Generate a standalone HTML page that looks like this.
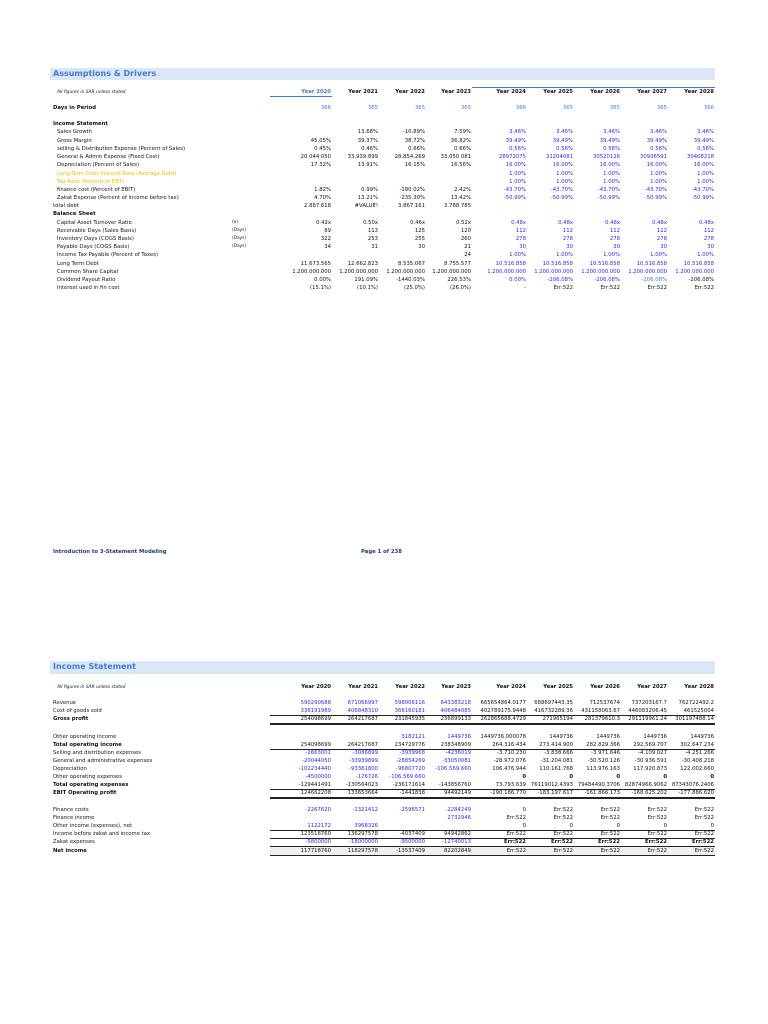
<!DOCTYPE html>
<html><head><meta charset="utf-8"><style>
body{margin:0;background:#fff;width:768px;height:1024px;position:relative;overflow:hidden;font-family:"DejaVu Sans","Liberation Sans",sans-serif;font-size:5.3px;color:#111}
.r{position:absolute;left:0;width:768px;height:8px;line-height:8px;white-space:nowrap}
.l{position:absolute;left:53px}
.i{left:57px}
.b{font-weight:bold}
.u{position:absolute;left:232px;font-size:4.3px}
.c{position:absolute;text-align:right;width:70px}
.c1{left:261px}.c2{left:308px}.c3{left:355px}.c4{left:401px}.c5{left:456px}.c6{left:503px}.c7{left:550px}.c8{left:597px}.c9{left:644px}
.bl{color:#2a2ae6}.lb{color:#3b7ddd}.or{color:#f5b800}
.band{position:absolute;left:50px;width:665px;background:#dce6f4;color:#3b7ddd;font-weight:bold;font-size:8px;line-height:12px;padding-left:3px;box-sizing:border-box}
.hd .c{font-weight:bold}
.ln{position:absolute;height:0;border-top:1px solid #222}
</style></head><body>

<div class="band" style="top:68px;height:12px">Assumptions &amp; Drivers</div>
<div class="r" style="top:89px"><span class="l i" style="font-style:italic;font-size:4.4px">All figures in SAR unless stated</span></div>
<div class="r hd" style="top:88px"><span class="c c1 lb">Year 2020</span><span class="c c2">Year 2021</span><span class="c c3">Year 2022</span><span class="c c4">Year 2023</span><span class="c c5">Year 2024</span><span class="c c6">Year 2025</span><span class="c c7">Year 2026</span><span class="c c8">Year 2027</span><span class="c c9">Year 2028</span></div>
<div class="ln" style="top:96px;left:270px;width:62px;border-color:#3b7ddd"></div>
<div class="ln" style="top:87px;left:472px;width:243px;border-color:#3b7ddd"></div>
<div class="r" style="top:104px"><span class="l b">Days in Period</span><span class="c c1 lb">366</span><span class="c c2 lb">365</span><span class="c c3 lb">365</span><span class="c c4 lb">365</span><span class="c c5 lb">366</span><span class="c c6 lb">365</span><span class="c c7 lb">365</span><span class="c c8 lb">365</span><span class="c c9 lb">366</span></div>
<div class="r" style="top:120px"><span class="l b">Income Statement</span></div>
<div class="r" style="top:128px"><span class="l i">Sales Growth</span><span class="c c2">13.68%</span><span class="c c3">-10.89%</span><span class="c c4">7.59%</span><span class="c c5 bl">3.46%</span><span class="c c6 bl">3.46%</span><span class="c c7 bl">3.46%</span><span class="c c8 bl">3.46%</span><span class="c c9 bl">3.46%</span></div>
<div class="r" style="top:137px"><span class="l i">Gross Margin</span><span class="c c1">45.05%</span><span class="c c2">39.37%</span><span class="c c3">38.72%</span><span class="c c4">36.82%</span><span class="c c5 bl">39.49%</span><span class="c c6 bl">39.49%</span><span class="c c7 bl">39.49%</span><span class="c c8 bl">39.49%</span><span class="c c9 bl">39.49%</span></div>
<div class="r" style="top:145px"><span class="l i">selling &amp; Distribution Expense (Percent of Sales)</span><span class="c c1">0.45%</span><span class="c c2">0.46%</span><span class="c c3">0.66%</span><span class="c c4">0.66%</span><span class="c c5 bl">0.56%</span><span class="c c6 bl">0.56%</span><span class="c c7 bl">0.56%</span><span class="c c8 bl">0.56%</span><span class="c c9 bl">0.56%</span></div>
<div class="r" style="top:153px"><span class="l i">General &amp; Admin Expense (Fixed Cost)</span><span class="c c1">20.044.050</span><span class="c c2">33.939.899</span><span class="c c3">28.854.269</span><span class="c c4">33.050.081</span><span class="c c5 bl">28972075</span><span class="c c6 bl">31204081</span><span class="c c7 bl">30520126</span><span class="c c8 bl">30936591</span><span class="c c9 bl">30408218</span></div>
<div class="r" style="top:161px"><span class="l i">Depreciation (Percent of Sales)</span><span class="c c1">17.32%</span><span class="c c2">13.91%</span><span class="c c3">16.15%</span><span class="c c4">16.56%</span><span class="c c5 bl">16.00%</span><span class="c c6 bl">16.00%</span><span class="c c7 bl">16.00%</span><span class="c c8 bl">16.00%</span><span class="c c9 bl">16.00%</span></div>
<div class="r" style="top:170px"><span class="l i or">Long-Term Debt Interest Rate (Average Debt)</span><span class="c c5 bl">1.00%</span><span class="c c6 bl">1.00%</span><span class="c c7 bl">1.00%</span><span class="c c8 bl">1.00%</span><span class="c c9 bl">1.00%</span></div>
<div class="r" style="top:178px"><span class="l i or">Tax Rate (Percent of EBT)</span><span class="c c5 bl">1.00%</span><span class="c c6 bl">1.00%</span><span class="c c7 bl">1.00%</span><span class="c c8 bl">1.00%</span><span class="c c9 bl">1.00%</span></div>
<div class="r" style="top:186px"><span class="l i">finance cost (Percent of EBIT)</span><span class="c c1">1.82%</span><span class="c c2">0.99%</span><span class="c c3">-180.02%</span><span class="c c4">2.42%</span><span class="c c5 bl">-43.70%</span><span class="c c6 bl">-43.70%</span><span class="c c7 bl">-43.70%</span><span class="c c8 bl">-43.70%</span><span class="c c9 bl">-43.70%</span></div>
<div class="r" style="top:194px"><span class="l i">Zakat Expense (Percent of income before tax)</span><span class="c c1">4.70%</span><span class="c c2">13.21%</span><span class="c c3">-235.30%</span><span class="c c4">13.42%</span><span class="c c5 bl">-50.99%</span><span class="c c6 bl">-50.99%</span><span class="c c7 bl">-50.99%</span><span class="c c8 bl">-50.99%</span><span class="c c9 bl">-50.99%</span></div>
<div class="r" style="top:202px"><span class="l">total debt</span><span class="c c1">2.887.618</span><span class="c c2">#VALUE!</span><span class="c c3">3.867.161</span><span class="c c4">3.788.785</span></div>
<div class="r" style="top:210px"><span class="l b">Balance Sheet</span></div>
<div class="r" style="top:219px"><span class="l i">Capital Asset Turnover Ratio</span><span class="u">(x)</span><span class="c c1">0.42x</span><span class="c c2">0.50x</span><span class="c c3">0.46x</span><span class="c c4">0.52x</span><span class="c c5 bl">0.48x</span><span class="c c6 bl">0.48x</span><span class="c c7 bl">0.48x</span><span class="c c8 bl">0.48x</span><span class="c c9 bl">0.48x</span></div>
<div class="r" style="top:227px"><span class="l i">Receivable Days (Sales Basis)</span><span class="u">(Days)</span><span class="c c1">89</span><span class="c c2">113</span><span class="c c3">125</span><span class="c c4">120</span><span class="c c5 bl">112</span><span class="c c6 bl">112</span><span class="c c7 bl">112</span><span class="c c8 bl">112</span><span class="c c9 bl">112</span></div>
<div class="r" style="top:235px"><span class="l i">Inventory Days (COGS Basis)</span><span class="u">(Days)</span><span class="c c1">322</span><span class="c c2">253</span><span class="c c3">255</span><span class="c c4">260</span><span class="c c5 bl">278</span><span class="c c6 bl">278</span><span class="c c7 bl">278</span><span class="c c8 bl">278</span><span class="c c9 bl">278</span></div>
<div class="r" style="top:243px"><span class="l i">Payable Days (COGS Basis)</span><span class="u">(Days)</span><span class="c c1">34</span><span class="c c2">31</span><span class="c c3">30</span><span class="c c4">21</span><span class="c c5 bl">30</span><span class="c c6 bl">30</span><span class="c c7 bl">30</span><span class="c c8 bl">30</span><span class="c c9 bl">30</span></div>
<div class="r" style="top:251px"><span class="l i">Income Tax Payable (Percent of Taxes)</span><span class="c c4">24</span><span class="c c5 bl">1.00%</span><span class="c c6 bl">1.00%</span><span class="c c7 bl">1.00%</span><span class="c c8 bl">1.00%</span><span class="c c9 bl">1.00%</span></div>
<div class="r" style="top:260px"><span class="l i">Long Term Debt</span><span class="c c1">11.673.565</span><span class="c c2">12.662.823</span><span class="c c3">8.535.067</span><span class="c c4">8.755.577</span><span class="c c5 bl">10.516.858</span><span class="c c6 bl">10.516.858</span><span class="c c7 bl">10.516.858</span><span class="c c8 bl">10.516.858</span><span class="c c9 bl">10.516.858</span></div>
<div class="r" style="top:268px"><span class="l i">Common Share Capital</span><span class="c c1">1.200.000.000</span><span class="c c2">1.200.000.000</span><span class="c c3">1.200.000.000</span><span class="c c4">1.200.000.000</span><span class="c c5 bl">1.200.000.000</span><span class="c c6 bl">1.200.000.000</span><span class="c c7 bl">1.200.000.000</span><span class="c c8 bl">1.200.000.000</span><span class="c c9 bl">1.200.000.000</span></div>
<div class="r" style="top:276px"><span class="l i">Dividend Payout Ratio</span><span class="c c1">0.00%</span><span class="c c2">191.09%</span><span class="c c3">-1440.03%</span><span class="c c4">226.53%</span><span class="c c5 bl">0.00%</span><span class="c c6 bl">-206.08%</span><span class="c c7 bl">-206.08%</span><span class="c c8 lb">-206.08%</span><span class="c c9">-206.08%</span></div>
<div class="r" style="top:284px"><span class="l i">Interest used in fin cost</span><span class="c c1">(15.1%)</span><span class="c c2">(10.1%)</span><span class="c c3">(25.0%)</span><span class="c c4">(26.0%)</span><span class="c c5">-</span><span class="c c6">Err:522</span><span class="c c7">Err:522</span><span class="c c8">Err:522</span><span class="c c9">Err:522</span></div>

<div class="r b" style="top:548px;color:#1f3a7a"><span class="l">Introduction to 3-Statement Modeling</span><span style="position:absolute;left:361px">Page 1 of 238</span></div>

<div class="band" style="top:661px;height:13px">Income Statement</div>
<div class="r" style="top:684px"><span class="l i" style="font-style:italic;font-size:4.4px">All figures in SAR unless stated</span></div>
<div class="r hd" style="top:683px"><span class="c c1">Year 2020</span><span class="c c2">Year 2021</span><span class="c c3">Year 2022</span><span class="c c4">Year 2023</span><span class="c c5">Year 2024</span><span class="c c6">Year 2025</span><span class="c c7">Year 2026</span><span class="c c8">Year 2027</span><span class="c c9">Year 2028</span></div>
<div class="r" style="top:699px"><span class="l">Revenue</span><span class="c c1 bl">590290688</span><span class="c c2 bl">671066997</span><span class="c c3 bl">598006116</span><span class="c c4 bl">643383218</span><span class="c c5">665654864.0177</span><span class="c c6">688697443.35</span><span class="c c7">712537674</span><span class="c c8">737203167.7</span><span class="c c9">762722492.2</span></div>
<div class="r" style="top:707px"><span class="l">Cost of goods sold</span><span class="c c1 bl">336191989</span><span class="c c2 bl">406848310</span><span class="c c3 bl">366160181</span><span class="c c4 bl">406484085</span><span class="c c5">402789175.9448</span><span class="c c6">416732289.36</span><span class="c c7">431158063.67</span><span class="c c8">446083206.45</span><span class="c c9">461525004</span></div>
<div class="ln" style="top:715px;left:270px;width:445px"></div>
<div class="r b" style="top:715px"><span class="l">Gross profit</span><span class="c c1" style="font-weight:normal">254098699</span><span class="c c2" style="font-weight:normal">264217687</span><span class="c c3" style="font-weight:normal">231845935</span><span class="c c4" style="font-weight:normal">236899133</span><span class="c c5" style="font-weight:normal">262865688.4729</span><span class="c c6" style="font-weight:normal">271965194</span><span class="c c7" style="font-weight:normal">281379610.3</span><span class="c c8" style="font-weight:normal">291119961.24</span><span class="c c9" style="font-weight:normal">301197488.14</span></div>
<div class="ln" style="top:723px;left:270px;width:445px;border-top:2.5px double #222;height:0"></div>
<div class="r" style="top:733px"><span class="l">Other operating income</span><span class="c c3 bl">3182121</span><span class="c c4 bl">1449736</span><span class="c c5">1449736.000078</span><span class="c c6">1449736</span><span class="c c7">1449736</span><span class="c c8">1449736</span><span class="c c9">1449736</span></div>
<div class="r b" style="top:741px"><span class="l">Total operating income</span><span class="c c1" style="font-weight:normal">254098699</span><span class="c c2" style="font-weight:normal">264217687</span><span class="c c3" style="font-weight:normal">234729776</span><span class="c c4" style="font-weight:normal">238348909</span><span class="c c5" style="font-weight:normal">264.316.434</span><span class="c c6" style="font-weight:normal">273.414.900</span><span class="c c7" style="font-weight:normal">282.829.366</span><span class="c c8" style="font-weight:normal">292.569.707</span><span class="c c9" style="font-weight:normal">302.647.234</span></div>
<div class="ln" style="top:749px;left:270px;width:445px"></div>
<div class="r" style="top:749px"><span class="l">Selling and distribution expenses</span><span class="c c1 bl">-2663001</span><span class="c c2 bl">-3086899</span><span class="c c3 bl">-3939968</span><span class="c c4 bl">-4236019</span><span class="c c5">-3.710.230</span><span class="c c6">-3.838.666</span><span class="c c7">-3.971.646</span><span class="c c8">-4.109.027</span><span class="c c9">-4.251.266</span></div>
<div class="r" style="top:757px"><span class="l">General and administrative expenses</span><span class="c c1 bl">-20044050</span><span class="c c2 bl">-33939899</span><span class="c c3 bl">-28854269</span><span class="c c4 bl">-33050081</span><span class="c c5">-28.972.076</span><span class="c c6">-31.204.081</span><span class="c c7">-30.520.126</span><span class="c c8">-30.936.591</span><span class="c c9">-30.408.218</span></div>
<div class="r" style="top:765px"><span class="l">Depreciation</span><span class="c c1 bl">-102234440</span><span class="c c2 bl">-93361800</span><span class="c c3 bl">-96807720</span><span class="c c4 bl">-106.569.660</span><span class="c c5">106.476.944</span><span class="c c6">110.161.768</span><span class="c c7">113.976.163</span><span class="c c8">117.920.873</span><span class="c c9">122.002.660</span></div>
<div class="r" style="top:773px"><span class="l">Other operating expenses</span><span class="c c1 bl">-4500000</span><span class="c c2 bl">-176726</span><span class="c c3 bl">-106.569.660</span><span class="c c5 b">0</span><span class="c c6 b">0</span><span class="c c7 b">0</span><span class="c c8 b">0</span><span class="c c9 b">0</span></div>
<div class="r b" style="top:781px"><span class="l">Total operating expenses</span><span class="c c1" style="font-weight:normal">-129441491</span><span class="c c2" style="font-weight:normal">-130564023</span><span class="c c3" style="font-weight:normal">-236171614</span><span class="c c4" style="font-weight:normal">-143856760</span><span class="c c5" style="font-weight:normal">73.793.639</span><span class="c c6" style="font-weight:normal">76119012.4393</span><span class="c c7" style="font-weight:normal">79484490.3706</span><span class="c c8" style="font-weight:normal">82874966.9062</span><span class="c c9" style="font-weight:normal">87343076.2406</span></div>
<div class="ln" style="top:789px;left:270px;width:445px"></div>
<div class="r b" style="top:789px"><span class="l">EBIT Operating profit</span><span class="c c1" style="font-weight:normal">124662208</span><span class="c c2" style="font-weight:normal">133653664</span><span class="c c3" style="font-weight:normal">-1441838</span><span class="c c4" style="font-weight:normal">94492149</span><span class="c c5" style="font-weight:normal">-190.186.770</span><span class="c c6" style="font-weight:normal">-183.197.617</span><span class="c c7" style="font-weight:normal">-161.866.173</span><span class="c c8" style="font-weight:normal">-168.625.202</span><span class="c c9" style="font-weight:normal">-177.886.620</span></div>
<div class="ln" style="top:797px;left:270px;width:445px;border-top:2.5px double #222"></div>
<div class="r" style="top:806px"><span class="l">Finance costs</span><span class="c c1 bl">-2267620</span><span class="c c2 bl">-1321412</span><span class="c c3 bl">-2596571</span><span class="c c4 bl">-2284249</span><span class="c c5">0</span><span class="c c6">Err:522</span><span class="c c7">Err:522</span><span class="c c8">Err:522</span><span class="c c9">Err:522</span></div>
<div class="r" style="top:814px"><span class="l">Finance income</span><span class="c c4 bl">2732946</span><span class="c c5">Err:522</span><span class="c c6">Err:522</span><span class="c c7">Err:522</span><span class="c c8">Err:522</span><span class="c c9">Err:522</span></div>
<div class="r" style="top:822px"><span class="l">Other income (expenses), net</span><span class="c c1 bl">1122172</span><span class="c c2 bl">3968326</span><span class="c c5">0</span><span class="c c6">0</span><span class="c c7">0</span><span class="c c8">0</span><span class="c c9">0</span></div>
<div class="ln" style="top:830px;left:270px;width:445px"></div>
<div class="r" style="top:830px"><span class="l">Income before zakat and income tax</span><span class="c c1">123518760</span><span class="c c2">136297578</span><span class="c c3">-4037409</span><span class="c c4">94942862</span><span class="c c5">Err:522</span><span class="c c6">Err:522</span><span class="c c7">Err:522</span><span class="c c8">Err:522</span><span class="c c9">Err:522</span></div>
<div class="ln" style="top:838px;left:270px;width:445px"></div>
<div class="r" style="top:838px"><span class="l">Zakat expenses</span><span class="c c1 bl">-5800000</span><span class="c c2 bl">-18000000</span><span class="c c3 bl">-9500000</span><span class="c c4 bl">-12740013</span><span class="c c5 b">Err:522</span><span class="c c6 b">Err:522</span><span class="c c7 b">Err:522</span><span class="c c8 b">Err:522</span><span class="c c9 b">Err:522</span></div>
<div class="ln" style="top:846px;left:270px;width:445px"></div>
<div style="position:absolute;top:847px;left:270px;width:445px;height:8px;background:#f0f0f0"></div>
<div class="r b" style="top:847px"><span class="l">Net income</span><span class="c c1" style="font-weight:normal">117718760</span><span class="c c2" style="font-weight:normal">118297578</span><span class="c c3" style="font-weight:normal">-13537409</span><span class="c c4" style="font-weight:normal">82202849</span><span class="c c5" style="font-weight:normal">Err:522</span><span class="c c6" style="font-weight:normal">Err:522</span><span class="c c7" style="font-weight:normal">Err:522</span><span class="c c8" style="font-weight:normal">Err:522</span><span class="c c9" style="font-weight:normal">Err:522</span></div>
<div class="ln" style="top:855px;left:270px;width:445px"></div>
</body></html>
